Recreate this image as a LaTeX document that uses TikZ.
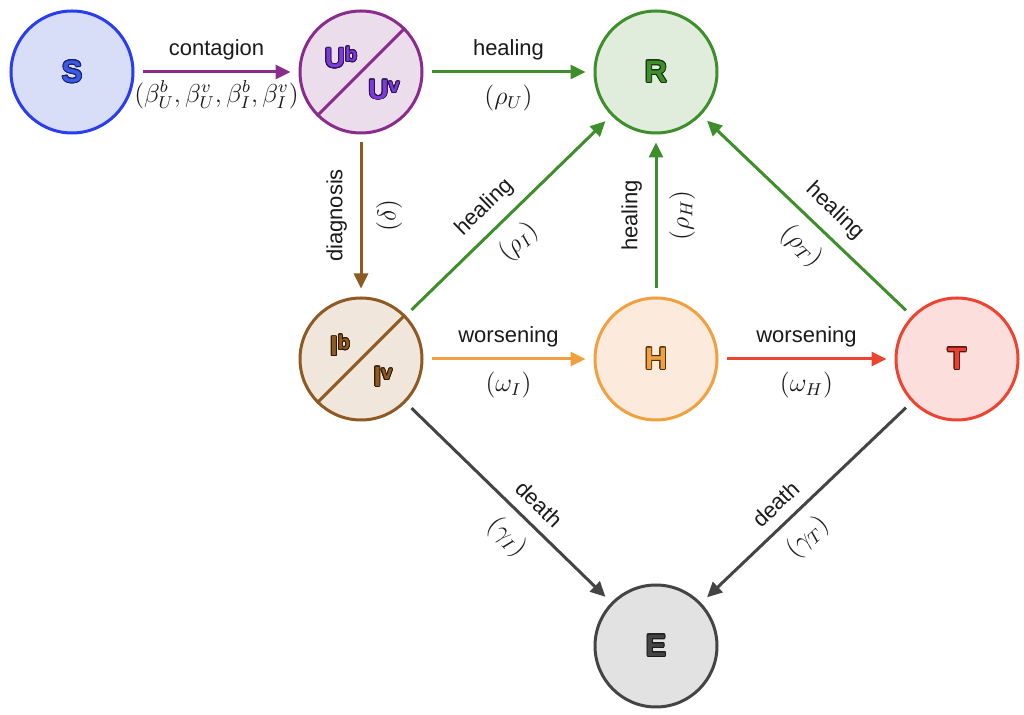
\documentclass[tikz,border=0pt]{standalone}
\usepackage[no-math]{fontspec}
\setmainfont{Liberation Sans}
\usepackage{contour}
\contourlength{0.45pt}
\usetikzlibrary{arrows.meta}
\definecolor{sDraw}{HTML}{2A3CF0}\definecolor{sFill}{HTML}{D9DEF8}\definecolor{sTxt}{HTML}{3B5BE6}\definecolor{sOut}{HTML}{16206A}
\definecolor{uDraw}{HTML}{8A2C8C}\definecolor{uFill}{HTML}{ECDDED}\definecolor{uTxt}{HTML}{7A3CD6}\definecolor{uOut}{HTML}{2E1050}
\definecolor{rDraw}{HTML}{3E8E2C}\definecolor{rFill}{HTML}{E0ECDC}\definecolor{rTxt}{HTML}{3E8E2C}\definecolor{rOut}{HTML}{12300C}
\definecolor{iDraw}{HTML}{8C5A22}\definecolor{iFill}{HTML}{F1E6DC}\definecolor{iTxt}{HTML}{8C5A22}\definecolor{iOut}{HTML}{301A06}
\definecolor{hDraw}{HTML}{F0A040}\definecolor{hFill}{HTML}{FCEBDD}\definecolor{hTxt}{HTML}{F0A040}\definecolor{hOut}{HTML}{4A2C08}
\definecolor{tDraw}{HTML}{EC4430}\definecolor{tFill}{HTML}{FCDEDD}\definecolor{tTxt}{HTML}{E84030}\definecolor{tOut}{HTML}{4A1008}
\definecolor{eDraw}{HTML}{444444}\definecolor{eFill}{HTML}{E2E2E2}\definecolor{eTxt}{HTML}{444444}\definecolor{eOut}{HTML}{1A1A1A}
\definecolor{labTxt}{HTML}{1A1A1A}
\newcommand{\outl}[3]{\textcolor{#1}{\contour{#2}{#3}}}
\newcommand{\supl}[1]{\raisebox{3.2pt}{\fontsize{10}{10}\selectfont #1}}
\begin{document}
\begin{tikzpicture}[x=0.5pt,y=-0.5pt,
  st/.style={circle, line width=1.5pt, minimum size=61pt, inner sep=0pt, font=\bfseries\fontsize{15.5}{15.5}\selectfont},
  inlab/.style={inner sep=0pt, font=\bfseries\fontsize{14}{14}\selectfont},
  lab/.style={font=\fontsize{11}{13}\selectfont, text=labTxt},
  mlab/.style={font=\fontsize{12}{14}\selectfont, text=labTxt, scale=1.08},
  arr/.style={line width=1.5pt, -{Triangle[length=7.5pt,width=7pt]}, shorten <=4pt, shorten >=4pt},
]
\useasboundingbox (0,0) rectangle (1024,715);
% nodes
\node[st, draw=sDraw, fill=sFill] (S) at (72,72) {\outl{sTxt}{sOut}{S}};
\node[st, draw=uDraw, fill=uFill] (U) at (361,72) {};
\node[st, draw=rDraw, fill=rFill] (R) at (656,72) {\outl{rTxt}{rOut}{R}};
\node[st, draw=iDraw, fill=iFill] (I) at (361,359) {};
\node[st, draw=hDraw, fill=hFill] (H) at (656,359) {\outl{hTxt}{hOut}{H}};
\node[st, draw=tDraw, fill=tFill] (T) at (957,359) {\outl{tTxt}{tOut}{T}};
\node[st, draw=eDraw, fill=eFill] (E) at (656,646) {\outl{eTxt}{eOut}{E}};
% split circles
\draw[uDraw, line width=1.5pt] (U.225) -- (U.45);
\node[inlab] (Ub) at (341,58) {\outl{uTxt}{uOut}{U\supl{b}}};
\node[inlab] (Uv) at (384,90) {\outl{uTxt}{uOut}{U\supl{v}}};
\draw[iDraw, line width=1.5pt] (I.225) -- (I.45);
\node[inlab] (Ib) at (340,346) {\outl{iTxt}{iOut}{I\supl{b}}};
\node[inlab] (Iv) at (383,377) {\outl{iTxt}{iOut}{I\supl{v}}};
% connectors
\draw[arr, color=uDraw] (S) -- (U)
  node[lab, midway, above=2pt] {contagion}
  node[mlab, midway, below=0pt] {$(\beta^b_U,\beta^v_U,\beta^b_I,\beta^v_I)$};
\draw[arr, color=rDraw] (U) -- (R)
  node[lab, midway, above=2pt] {healing}
  node[mlab, midway, below=2pt] {$(\rho_U)$};
\draw[arr, color=iDraw] (U) -- (I)
  node[lab, midway, rotate=90, above=3pt] {diagnosis}
  node[mlab, midway, rotate=90, below=3pt] {$(\delta)$};
\draw[arr, color=rDraw] (I) -- (R)
  node[lab, pos=0.46, sloped, above=2pt] {healing}
  node[mlab, pos=0.46, sloped, below=2pt] {$(\rho_I)$};
\draw[arr, color=rDraw] (H) -- (R)
  node[lab, midway, rotate=90, above=3pt] {healing}
  node[mlab, midway, rotate=90, below=2pt] {$(\rho_H)$};
\draw[arr, color=rDraw] (T) -- (R)
  node[lab, pos=0.44, sloped, above=2pt] {healing}
  node[mlab, pos=0.44, sloped, below=2pt] {$(\rho_T)$};
\draw[arr, color=hDraw] (I) -- (H)
  node[lab, midway, above=2pt] {worsening}
  node[mlab, midway, below=2pt] {$(\omega_I)$};
\draw[arr, color=tDraw] (H) -- (T)
  node[lab, midway, above=2pt] {worsening}
  node[mlab, midway, below=2pt] {$(\omega_H)$};
\draw[arr, color=eDraw] (I) -- (E)
  node[lab, pos=0.58, sloped, above=2pt] {death}
  node[mlab, pos=0.58, sloped, below=2pt] {$(\gamma_I)$};
\draw[arr, color=eDraw] (T) -- (E)
  node[lab, pos=0.58, sloped, above=2pt] {death}
  node[mlab, pos=0.58, sloped, below=2pt] {$(\gamma_T)$};
\end{tikzpicture}
\end{document}
